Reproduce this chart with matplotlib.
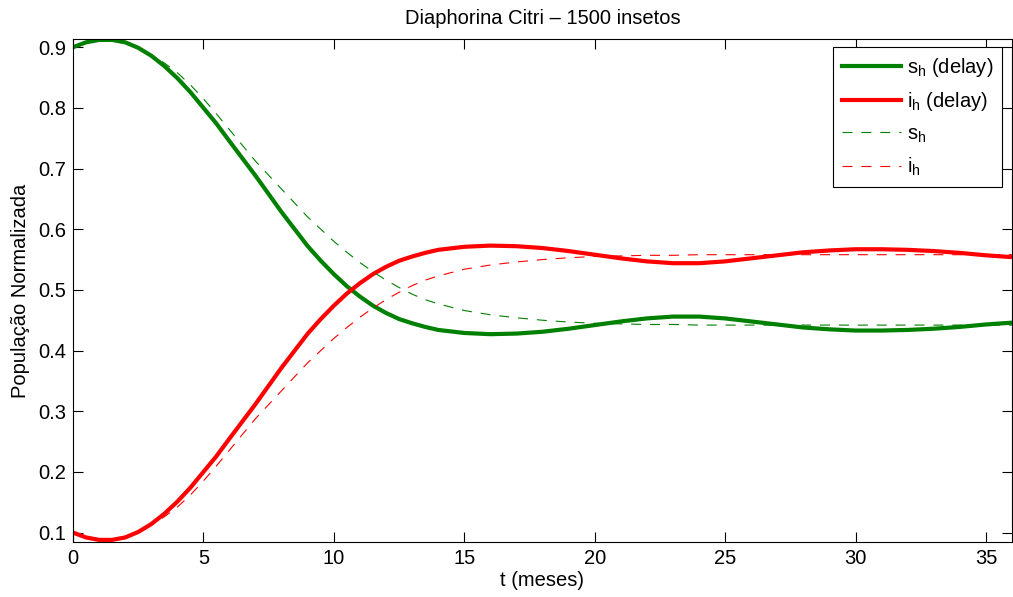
import matplotlib
matplotlib.use("Agg")
import matplotlib.pyplot as plt

plt.rcParams['font.family'] = ['Liberation Sans', 'DejaVu Sans']

# time (months)
t = [0, 0.5, 1, 1.5, 2, 2.5, 3, 3.5, 4, 4.5, 5, 5.5, 6, 7, 8, 9, 9.5, 10, 10.5, 11, 11.5,
     12, 12.5, 13, 13.5, 14, 15, 16, 17, 18, 19, 20, 21, 22, 23, 24, 25, 26, 27, 28,
     29, 30, 31, 32, 33, 34, 35, 36]

# s_h with delay
sh_delay = [0.900, 0.908, 0.912, 0.912, 0.908, 0.899, 0.886, 0.869, 0.849, 0.826, 0.800,
            0.774, 0.745, 0.688, 0.628, 0.572, 0.548, 0.526, 0.506, 0.489, 0.474,
            0.462, 0.452, 0.445, 0.439, 0.434, 0.429, 0.427, 0.428, 0.431, 0.436,
            0.442, 0.448, 0.453, 0.456, 0.456, 0.453, 0.448, 0.443, 0.438, 0.435,
            0.433, 0.433, 0.434, 0.436, 0.439, 0.443, 0.446]
# i_h with delay
ih_delay = [0.100, 0.092, 0.088, 0.088, 0.092, 0.101, 0.114, 0.131, 0.151, 0.174, 0.200,
            0.226, 0.255, 0.312, 0.372, 0.428, 0.452, 0.474, 0.494, 0.511, 0.526,
            0.538, 0.548, 0.555, 0.561, 0.566, 0.571, 0.573, 0.572, 0.569, 0.564,
            0.558, 0.552, 0.547, 0.544, 0.544, 0.547, 0.552, 0.557, 0.562, 0.565,
            0.567, 0.567, 0.566, 0.564, 0.561, 0.557, 0.554]
# s_h without delay
sh = [0.900, 0.907, 0.911, 0.911, 0.907, 0.899, 0.887, 0.874, 0.858, 0.838, 0.815,
      0.790, 0.764, 0.712, 0.666, 0.620, 0.600, 0.580, 0.562, 0.545, 0.530,
      0.516, 0.504, 0.493, 0.484, 0.477, 0.466, 0.459, 0.454, 0.450, 0.447,
      0.445, 0.444, 0.443, 0.443, 0.442, 0.442, 0.442, 0.442, 0.442, 0.442,
      0.442, 0.442, 0.442, 0.442, 0.442, 0.442, 0.442]
# i_h without delay
ih = [0.100, 0.093, 0.089, 0.089, 0.093, 0.101, 0.113, 0.126, 0.142, 0.162, 0.185,
      0.210, 0.236, 0.288, 0.334, 0.380, 0.400, 0.420, 0.438, 0.455, 0.470,
      0.484, 0.496, 0.507, 0.516, 0.523, 0.534, 0.541, 0.546, 0.550, 0.553,
      0.555, 0.556, 0.557, 0.557, 0.558, 0.558, 0.558, 0.558, 0.558, 0.558,
      0.558, 0.558, 0.558, 0.558, 0.558, 0.558, 0.558]

GREEN = '#008000'
RED = '#ff0000'
FS = 14.5

fig = plt.figure(figsize=(10.13, 5.97), dpi=100)
ax = fig.add_axes([73/1013, 1 - 542/597, (1012-73)/1013, (542-39)/597])

ax.plot(t, sh_delay, color=GREEN, lw=3, label='s$_\\mathregular{h}$ (delay)')
ax.plot(t, ih_delay, color=RED, lw=3, label='i$_\\mathregular{h}$ (delay)')
ax.plot(t, sh, color=GREEN, lw=0.8, dashes=(9, 8), label='s$_\\mathregular{h}$')
ax.plot(t, ih, color=RED, lw=0.8, dashes=(9, 8), label='i$_\\mathregular{h}$')

ax.set_xlim(0, 36)
ax.set_ylim(0.0845, 0.9135)
ax.set_xticks([0, 5, 10, 15, 20, 25, 30, 35])
ax.set_yticks([0.1, 0.2, 0.3, 0.4, 0.5, 0.6, 0.7, 0.8, 0.9])
ax.tick_params(direction='in', length=7, width=0.8, top=True, right=True,
               labelsize=FS, pad=5)
for s in ax.spines.values():
    s.set_linewidth(0.8)

ax.set_title('Diaphorina Citri \u2013 1500 insetos', fontsize=FS, pad=11)
ax.set_xlabel('t (meses)', fontsize=FS, labelpad=2)
ax.set_ylabel('População Normalizada', fontsize=FS, labelpad=6)

leg = ax.legend(loc='upper right', bbox_to_anchor=(0.9895, 0.984), fontsize=FS,
                fancybox=False, edgecolor='black', framealpha=1, borderaxespad=0,
                handlelength=2.9, handletextpad=0.3, borderpad=0.45,
                labelspacing=0.55)
leg.get_frame().set_linewidth(0.8)

fig.savefig('out.png', dpi=100)
